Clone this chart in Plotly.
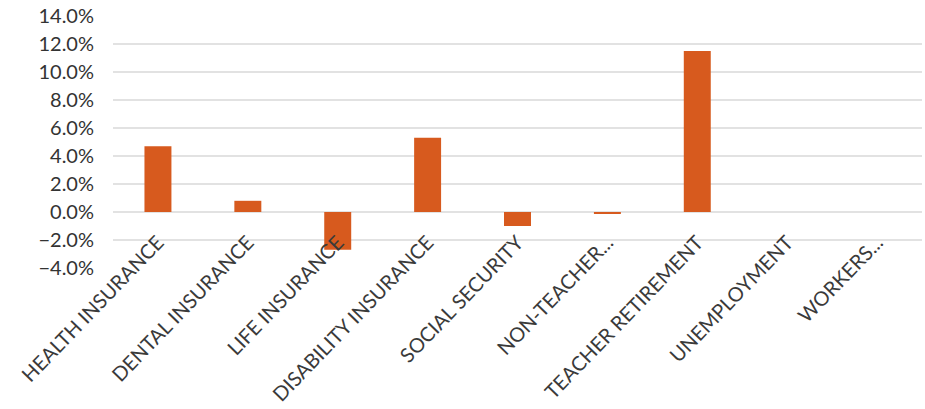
import plotly.graph_objects as go

categories = ["HEALTH INSURANCE", "DENTAL INSURANCE", "LIFE INSURANCE", "DISABILITY INSURANCE",
              "SOCIAL SECURITY", "NON-TEACHER...", "TEACHER RETIREMENT", "UNEMPLOYMENT", "WORKERS..."]
values = [0.047, 0.008, -0.027, 0.053, -0.010, -0.001, 0.115, 0.0, 0.0]
tick_vals = [-0.04, -0.02, 0.0, 0.02, 0.04, 0.06, 0.08, 0.10, 0.12, 0.14]

fig = go.Figure(go.Bar(x=categories, y=values, marker_color="#D75A1E", marker_line_width=0))
fig.update_layout(
    width=925, height=409,
    margin=dict(l=113, r=3, t=14, b=141),
    paper_bgcolor="white", plot_bgcolor="white",
    bargap=0.7, showlegend=False,
    font=dict(family="Lato, Open Sans, sans-serif", color="#404040"),
)
fig.update_yaxes(range=[-0.04, 0.14], tickvals=tick_vals, tickformat=".1%",
                 showgrid=True, gridcolor="#E2E2E2", gridwidth=1.5,
                 zeroline=True, zerolinecolor="#E2E2E2", zerolinewidth=1.5,
                 tickfont=dict(size=20, color="#333333"), ticks="", ticklen=0, ticklabelstandoff=18)
fig.update_xaxes(tickangle=-46, tickfont=dict(size=20, color="#3a3a3a"), showgrid=False, showline=False,
                 ticklabelstandoff=-42)
fig.write_html("out.html")
